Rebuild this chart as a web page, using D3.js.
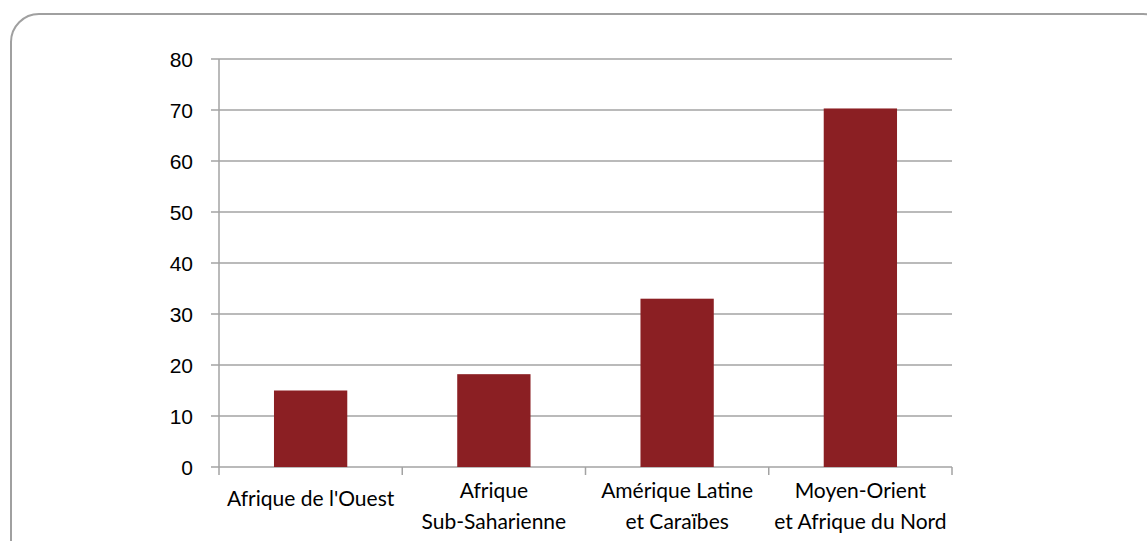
<!DOCTYPE html>
<html>
<head>
<meta charset="utf-8">
<script src="https://cdn.jsdelivr.net/npm/d3@7"></script>
<style>
  html, body { margin: 0; padding: 0; background: #fff; }
  svg { display: block; }
</style>
</head>
<body>
<svg id="chart" width="1147" height="541"></svg>
<script>
// Regions (each label split into its display lines)
const categories = [
  ["Afrique de l'Ouest"],
  ["Afrique", "Sub-Saharienne"],
  ["Amérique Latine", "et Caraïbes"],
  ["Moyen-Orient", "et Afrique du Nord"]
];
const values = [15, 18.2, 33, 70.3];
const yTicks = [0, 10, 20, 30, 40, 50, 60, 70, 80];

const W = 1147, H = 541;
const margin = { left: 219, right: 1147 - 952, top: 59, bottom: 541 - 467 };
const svg = d3.select("#chart");

// Outer frame
svg.append("rect")
  .attr("x", 11).attr("y", 14)
  .attr("width", 1160).attr("height", 580)
  .attr("rx", 28).attr("ry", 28)
  .attr("fill", "none")
  .attr("stroke", "#a0a0a0")
  .attr("stroke-width", 2);

const labels = categories.map(d => d.join(" "));
const x = d3.scaleBand()
  .domain(labels)
  .range([margin.left, W - margin.right])
  .paddingInner(0.6).paddingOuter(0.3);
const band = d3.scaleBand().domain(labels).range([margin.left, W - margin.right]);

const y = d3.scaleLinear().domain([0, 80]).range([H - margin.bottom, margin.top]);

const grey = "#a3a3a3";

// Horizontal gridlines with outside ticks
const gy = svg.append("g");
gy.selectAll("line").data(yTicks).join("line")
  .attr("x1", margin.left - 8).attr("x2", W - margin.right)
  .attr("y1", d => y(d)).attr("y2", d => y(d))
  .attr("stroke", grey).attr("stroke-width", 1.5);

gy.selectAll("text").data(yTicks).join("text")
  .attr("x", 193)
  .attr("y", d => y(d))
  .attr("dy", "0.36em")
  .attr("text-anchor", "end")
  .attr("font-family", "Liberation Sans, Arial, sans-serif")
  .attr("font-size", 21)
  .attr("fill", "#000")
  .text(d => d);

// Bars
svg.append("g").selectAll("rect").data(values).join("rect")
  .attr("x", (d, i) => x(labels[i]))
  .attr("width", x.bandwidth())
  .attr("y", d => y(d))
  .attr("height", d => y(0) - y(d))
  .attr("fill", "#8b1f23");

// Vertical axis line
svg.append("line")
  .attr("x1", margin.left).attr("x2", margin.left)
  .attr("y1", y(80)).attr("y2", y(0) + 8)
  .attr("stroke", grey).attr("stroke-width", 1.5);

// Category boundary ticks on the baseline
const bounds = labels.map(l => band(l)).concat([W - margin.right]);
svg.append("g").selectAll("line").data(bounds.slice(1)).join("line")
  .attr("x1", d => d).attr("x2", d => d)
  .attr("y1", y(0)).attr("y2", y(0) + 8)
  .attr("stroke", grey).attr("stroke-width", 1.5);

// Category labels
const lab = svg.append("g").selectAll("text").data(categories).join("text")
  .attr("text-anchor", "middle")
  .attr("font-family", "Lato, 'Open Sans', sans-serif")
  .attr("font-size", 21)
  .attr("fill", "#000");
lab.each(function(lines, i) {
  const cx = band(labels[i]) + band.bandwidth() / 2;
  const first = lines.length === 1 ? 506 : 498;
  d3.select(this).selectAll("tspan").data(lines).join("tspan")
    .attr("x", cx)
    .attr("y", (d, j) => first + j * 31)
    .text(d => d);
});
</script>
</body>
</html>
